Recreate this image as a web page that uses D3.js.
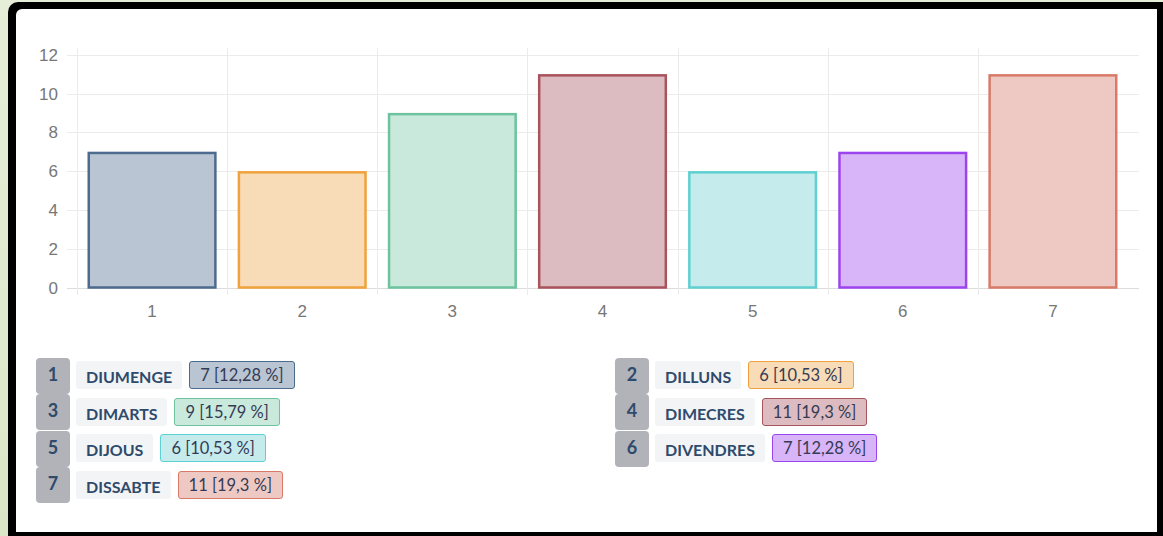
<!DOCTYPE html>
<html><head><meta charset="utf-8">
<script src="https://cdn.jsdelivr.net/npm/d3@7"></script>
<style>
html,body{margin:0;padding:0;}
body{width:1163px;height:536px;overflow:hidden;background:linear-gradient(180deg,#e6eed9 0%,#dbe6c6 100%);position:relative;font-family:"Liberation Sans",Arial,sans-serif;}
#frame{position:absolute;left:8px;top:2px;width:1170px;height:545px;background:#000;border-radius:10px 0 0 0;}
#inner{position:absolute;left:16px;top:9px;width:1141px;height:523px;background:#fff;border-radius:6px 0 0 0;}
#chart{position:absolute;left:0;top:0;}
.legend{position:absolute;top:357px;font-family:Lato,"Open Sans",sans-serif;}
.row{display:flex;align-items:center;height:36.5px;}
.badge{width:34px;height:36px;background:#b1b3b8;border-radius:4px;color:#2e4a6c;font-weight:bold;font-size:18px;display:flex;align-items:center;justify-content:center;margin-top:0.5px;box-sizing:border-box;padding-bottom:4px;}
.lab{margin-left:6px;background:#f3f4f5;color:#2e4a6c;font-weight:bold;font-size:16px;height:28px;line-height:31px;padding:0 10px;border-radius:3px;}
.val{margin-left:7px;color:#353b55;font-size:16.5px;height:26px;line-height:27px;padding:0 10px;border:1.5px solid;border-radius:3px;}
</style></head>
<body>
<div id="frame"></div>
<div id="inner"></div>
<svg id="chart" width="1163" height="536"></svg>
<script>
const categories = ["1","2","3","4","5","6","7"];
const values = [7, 6, 9, 11, 6, 7, 11];
const dayNames = ["DIUMENGE","DILLUNS","DIMARTS","DIMECRES","DIJOUS","DIVENDRES","DISSABTE"];
const percents = ["12,28","10,53","15,79","19,3","10,53","12,28","19,3"];
const yTicks = [0, 2, 4, 6, 8, 10, 12];
const strokeColors = ["#4d6b8e","#f0a23c","#6cc39d","#a9535c","#5fd0d2","#9c45ef","#d97a68"];
const fillColors = ["#b9c5d3","#f8dbb7","#c9e9dc","#dcbcc0","#c6ebed","#d8b5f8","#eec9c3"];

const svg = d3.select("#chart");
const x = d3.scaleBand().domain(categories).range([77, 1128]).paddingInner(0.14).paddingOuter(0.07);
const y = d3.scaleLinear().domain([0, 12]).range([287.5, 54.7]);

// horizontal grid
svg.append("g").selectAll("line").data(yTicks).join("line")
  .attr("x1", 67).attr("x2", 1139)
  .attr("y1", d => Math.round(y(d)) + 0.5).attr("y2", d => Math.round(y(d)) + 0.5)
  .attr("stroke", d => d === 0 ? "#dcdcdc" : "#ebebeb").attr("stroke-width", 1);
// vertical grid at band boundaries
const step = x.step();
svg.append("g").selectAll("line").data(categories).join("line")
  .attr("x1", d => Math.round(x(d) - step * x.paddingInner() / 2) + 0.5)
  .attr("x2", d => Math.round(x(d) - step * x.paddingInner() / 2) + 0.5)
  .attr("y1", 48).attr("y2", 295)
  .attr("stroke", "#ebebeb");

// y labels
svg.append("g").selectAll("text").data(yTicks).join("text")
  .attr("x", 58).attr("y", d => y(d)).attr("dy", "0.36em")
  .attr("text-anchor", "end").attr("fill", "#777")
  .style("font-size", "17px").text(d => d);
// x labels
svg.append("g").selectAll("text").data(categories).join("text")
  .attr("x", d => x(d) + x.bandwidth() / 2).attr("y", 311).attr("dy", "0.36em")
  .attr("text-anchor", "middle").attr("fill", "#777")
  .style("font-size", "17px").text(d => d);

// bars
svg.append("g").selectAll("rect").data(values).join("rect")
  .attr("x", (d, i) => x(categories[i]) + 1.25)
  .attr("width", x.bandwidth() - 2.5)
  .attr("y", d => y(d) + 1.25)
  .attr("height", d => y(0) - y(d) - 1.25)
  .attr("fill", (d, i) => fillColors[i])
  .attr("stroke", (d, i) => strokeColors[i])
  .attr("stroke-width", 2.5);

// legend
const cols = [[0, 2, 4, 6], [1, 3, 5]];
const lefts = [36, 615];
cols.forEach((idxs, c) => {
  const col = d3.select("body").append("div").attr("class", "legend").style("left", lefts[c] + "px");
  const rows = col.selectAll("div.row").data(idxs).join("div").attr("class", "row");
  rows.append("div").attr("class", "badge").text(i => categories[i]);
  rows.append("div").attr("class", "lab").text(i => dayNames[i]);
  rows.append("div").attr("class", "val")
    .style("border-color", i => strokeColors[i])
    .style("background", i => fillColors[i])
    .text(i => `${values[i]} [${percents[i]} %]`);
});
</script>
</body></html>
